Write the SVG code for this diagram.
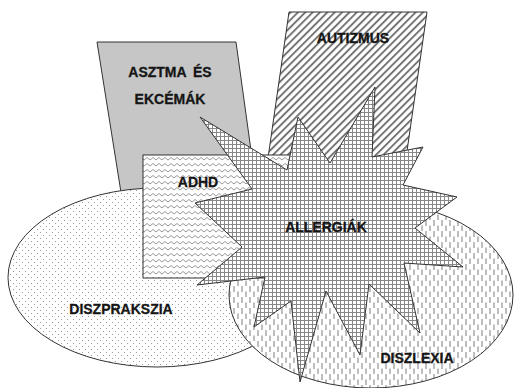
<svg xmlns="http://www.w3.org/2000/svg" width="514" height="388" viewBox="0 0 514 388">
<style>
.shape{stroke:#333;stroke-width:1;stroke-linejoin:miter}
.lbl{font-family:"Liberation Sans",Arial,sans-serif;font-weight:bold;font-size:14px;fill:#151515;stroke:#151515;stroke-width:0.3;text-anchor:middle}
</style>
<defs>
<pattern id="hatch" width="5.2" height="5.2" patternUnits="userSpaceOnUse" patternTransform="rotate(45)">
<rect width="5.2" height="5.2" fill="#fff"/>
<line x1="1" y1="0" x2="1" y2="5.2" stroke="#6a6a6a" stroke-width="1.8"/>
</pattern>
<pattern id="zig" width="6" height="6" patternUnits="userSpaceOnUse">
<rect width="6" height="6" fill="#fff"/>
<path d="M0 4 L3 1.5 L6 4" fill="none" stroke="#8c8c8c" stroke-width="0.9"/>
</pattern>
<pattern id="grid" width="4" height="4" patternUnits="userSpaceOnUse">
<rect width="4" height="4" fill="#fff"/>
<path d="M0 0.5 H4 M0.5 0 V4" stroke="#888" stroke-width="1"/>
</pattern>
<pattern id="dots" width="6" height="6" patternUnits="userSpaceOnUse">
<rect width="6" height="6" fill="#fff"/>
<rect x="1" y="1" width="1" height="1" fill="#9a9a9a"/>
<rect x="4" y="4" width="1" height="1" fill="#9a9a9a"/>
</pattern>
<pattern id="dash" width="8" height="11" patternUnits="userSpaceOnUse">
<rect width="8" height="11" fill="#fff"/>
<path d="M2 0 V6 M6 5.5 V11" stroke="#939393" stroke-width="1.2"/>
</pattern>
</defs>
<rect width="514" height="388" fill="#fff"/>
<g id="asthma">
<polygon class="shape" points="97,42 236,42 262,230 127,230" fill="#c6c6c6"/>
</g>
<g id="autism">
<polygon class="shape" points="289,12 427,12 405,165 267,165" fill="url(#hatch)"/>
</g>
<g id="dyspraxia">
<ellipse class="shape" cx="157" cy="277.5" rx="149" ry="89.5" fill="url(#dots)"/>
</g>
<g id="dyslexia">
<ellipse class="shape" cx="371" cy="295" rx="142" ry="93" fill="url(#dash)"/>
</g>
<g id="adhd">
<rect class="shape" x="143" y="155" width="157" height="123" fill="url(#zig)"/>
</g>
<g id="allergies">
<polygon class="shape" points="200,117 252,189 195,203 242,247 197,285 265,277 254,327 291,301 300,382 326,291 360,355 369,284 420,333 404,263 463,267 415,228 457,197 403,185 423,147 372,157 375,87 330,163 298,117 287,170" fill="url(#grid)"/>
</g>
<g id="connectors"/>
<g id="labels">
<text class="lbl" x="170" y="77" word-spacing="3">ASZTMA ÉS</text>
<text class="lbl" x="170" y="104">EKCÉMÁK</text>
<text class="lbl" x="353" y="43">AUTIZMUS</text>
<text class="lbl" x="198" y="187">ADHD</text>
<text class="lbl" x="326" y="232">ALLERGIÁK</text>
<text class="lbl" x="121" y="314">DISZPRAKSZIA</text>
<text class="lbl" x="417" y="363">DISZLEXIA</text>
</g>
</svg>
